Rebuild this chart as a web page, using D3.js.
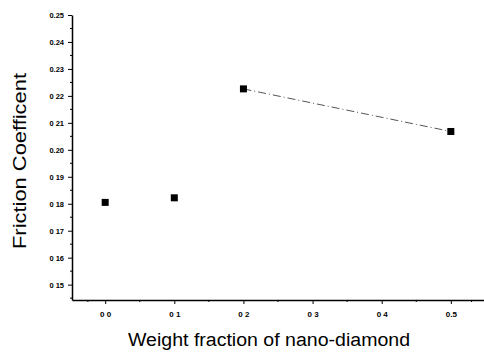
<!DOCTYPE html>
<html>
<head>
<meta charset="utf-8">
<script src="https://cdn.jsdelivr.net/npm/d3@7"></script>
<style>
body { margin: 0; background: #fff; }
text { font-family: "Liberation Sans", Arial, sans-serif; }
</style>
</head>
<body>
<div id="chart"></div>
<script>
var weight = [0.0, 0.1, 0.2, 0.5];
var friction = [0.1805, 0.1822, 0.2226, 0.2068];
// only the last two points are joined
var line_idx = [2, 3];
var x_ticks = [0.0, 0.1, 0.2, 0.3, 0.4, 0.5];
var x_minor = [-0.025, 0.05, 0.15, 0.25, 0.35, 0.45, 0.53];
var x_tick_labels = ["0 0", "0 1", "0 2", "0 3", "0 4", "0.5"];
var y_ticks = [0.15, 0.16, 0.17, 0.18, 0.19, 0.20, 0.21, 0.22, 0.23, 0.24, 0.25];
var y_minor = [0.145, 0.155, 0.165, 0.175, 0.185, 0.195, 0.205, 0.215, 0.225, 0.235, 0.245];
var y_tick_labels = ["0 15", "0 16", "0 17", "0 18", "0 19", "0.20", "0 21", "0 22", "0.23", "0.24", "0.25"];

var width = 484, height = 353;
var margin = {top: 15, right: 0, bottom: 53, left: 72};
var w = width - margin.left - margin.right;
var h = height - margin.top - margin.bottom;

var svg = d3.select("#chart").append("svg").attr("width", width).attr("height", height)
    .append("g").attr("transform", "translate(" + margin.left + "," + margin.top + ")");

var x = d3.scaleLinear().range([0, w]).domain([-0.048, 0.548]);
var y = d3.scaleLinear().range([h, 0]).domain([0.1443, 0.25]);

// y axis
var yAxis = svg.append("g").call(d3.axisLeft(y).tickValues(y_ticks).tickSize(4).tickSizeOuter(0)
    .tickFormat(function(d, i) { return y_tick_labels[i]; }));
yAxis.append("g").selectAll("line").data(y_minor).enter().append("line")
    .attr("x1", -2).attr("x2", 0).attr("y1", d => y(d)).attr("y2", d => y(d)).attr("stroke", "#000");
yAxis.selectAll(".tick text").attr("font-size", 7.5).attr("font-weight", "bold").attr("fill", "#000").attr("dx", -1);
yAxis.select(".domain").attr("stroke-width", 1.5);

// x axis
var xAxis = svg.append("g").attr("transform", "translate(0," + h + ")")
    .call(d3.axisBottom(x).tickValues(x_ticks).tickSize(4).tickSizeOuter(0)
    .tickFormat(function(d, i) { return x_tick_labels[i]; }));
xAxis.append("g").selectAll("line").data(x_minor).enter().append("line")
    .attr("x1", d => x(d)).attr("x2", d => x(d)).attr("y1", 0).attr("y2", 2).attr("stroke", "#000");
xAxis.selectAll(".tick text").attr("font-size", 8).attr("font-weight", "bold").attr("fill", "#000").attr("dy", "1.3em");
xAxis.select(".domain").attr("stroke-width", 1.5);

// connecting line
var line = d3.line().x(i => x(weight[i])).y(i => y(friction[i]));
svg.append("path").datum(line_idx).attr("d", line).attr("fill", "none")
    .attr("stroke", "#555").attr("stroke-width", 1).attr("stroke-dasharray", "8,3,1,3");

// points
svg.selectAll(".pt").data(weight).enter().append("rect").attr("class", "pt")
    .attr("x", (d, i) => x(d) - 3.5).attr("y", (d, i) => y(friction[i]) - 3.5)
    .attr("width", 7).attr("height", 7).attr("fill", "#000");

// labels
svg.append("text").attr("text-anchor", "middle").attr("x", 197).attr("y", h + 46)
    .attr("font-size", 18).attr("textLength", 282).attr("lengthAdjust", "spacingAndGlyphs")
    .text("Weight fraction of nano-diamond");
svg.append("text").attr("text-anchor", "middle").attr("transform", "rotate(-90)")
    .attr("x", -146).attr("y", -46).attr("font-size", 18).attr("textLength", 176)
    .attr("lengthAdjust", "spacingAndGlyphs").text("Friction Coefficent");
</script>
</body>
</html>
